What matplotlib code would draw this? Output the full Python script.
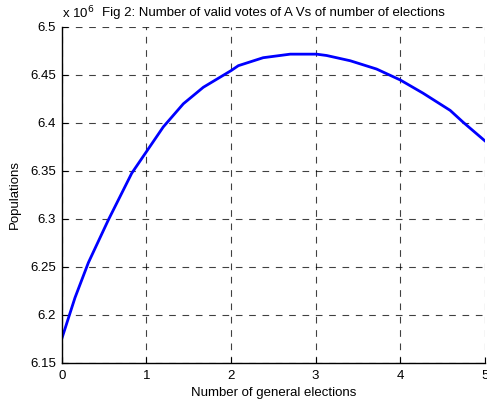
import matplotlib
matplotlib.use("Agg")
import matplotlib.pyplot as plt
import numpy as np

plt.rcParams['font.family'] = ['Liberation Sans', 'DejaVu Sans']

elections = [0.0, 0.157, 0.315, 0.551, 0.827, 1.0, 1.2, 1.437, 1.673, 2.0, 2.087,
             2.38, 2.70, 3.01, 3.13, 3.41, 3.72, 4.0, 4.27, 4.59, 4.74, 5.0]
votes_millions = [6.175, 6.218, 6.2545, 6.299, 6.3476, 6.370, 6.3959, 6.420, 6.4372,
                  6.4545, 6.4597, 6.468, 6.4717, 6.4717, 6.4703, 6.4648, 6.4562,
                  6.4448, 6.431, 6.4131, 6.401, 6.3814]
x_ticks = [0, 1, 2, 3, 4, 5]
y_ticks = [6.15, 6.2, 6.25, 6.3, 6.35, 6.4, 6.45, 6.5]
y_tick_labels = ['6.15', '6.2', '6.25', '6.3', '6.35', '6.4', '6.45', '6.5']

fs = 9.5
fig = plt.figure(figsize=(4.87, 4.04), dpi=100)
ax = fig.add_axes([0.1267, 0.1015, 0.869, 0.8317])

ax.plot(elections, votes_millions, color='#0000ff', linewidth=2, zorder=3)

ax.set_xlim(0, 5)
ax.set_ylim(6.15, 6.5)
ax.set_xticks(x_ticks)
ax.set_xticklabels([str(t) for t in x_ticks], fontsize=fs)
ax.set_yticks(y_ticks)
ax.set_yticklabels(y_tick_labels, fontsize=fs)
ax.tick_params(direction='in', length=4, width=0.8)
ax.tick_params(axis='x', pad=5)
ax.tick_params(axis='y', pad=4)

ax.grid(True, color='black', linestyle=(0, (6, 6)), linewidth=0.8, alpha=0.75)
for s in ['top', 'right']:
    ax.spines[s].set_visible(False)
for s in ['left', 'bottom']:
    ax.spines[s].set_linewidth(1.0)
    ax.spines[s].set_zorder(4)

ax.set_xlabel('Number of general elections', fontsize=fs, va='top')
ax.xaxis.set_label_coords(0.5, -0.0714)
ax.set_ylabel('Populations', fontsize=fs)
ax.yaxis.set_label_coords(-0.096, 0.5)
ax.set_title('Fig 2: Number of valid votes of A Vs of number of elections', fontsize=fs, pad=8)
ax.text(0.0, 1.027, r'x 10$^{6}$', transform=ax.transAxes, fontsize=fs, ha='left', va='baseline')

fig.savefig('out.png', dpi=100)
